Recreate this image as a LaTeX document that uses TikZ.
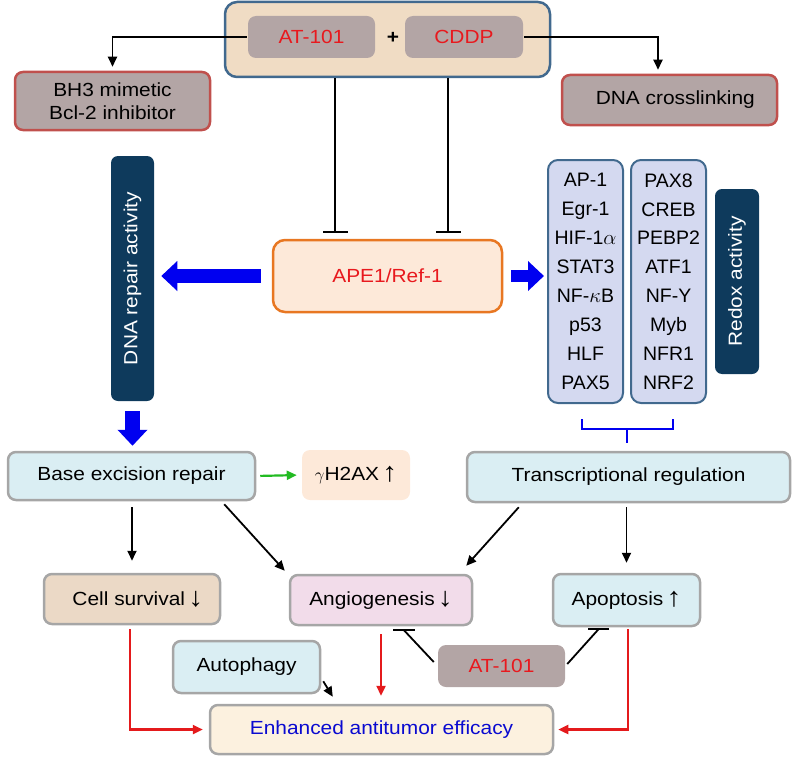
\documentclass[tikz,border=0pt]{standalone}
\usepackage{fontspec}
\usepackage{graphicx}
\setmainfont{Liberation Sans}[FakeStretch=1.1]
\newfontfamily\colfont{Liberation Sans}
\usetikzlibrary{arrows.meta,calc}

\definecolor{topfill}{HTML}{F0DCC4}
\definecolor{steel}{HTML}{41698E}
\definecolor{mauve}{HTML}{B3A5A5}
\definecolor{brick}{HTML}{C0504D}
\definecolor{apefill}{HTML}{FDE9D9}
\definecolor{apeline}{HTML}{E87722}
\definecolor{navy}{HTML}{0E3A5C}
\definecolor{tffill}{HTML}{D4D9F0}
\definecolor{lblue}{HTML}{DAEEF3}
\definecolor{boxgrey}{HTML}{A6A6A6}
\definecolor{cellfill}{HTML}{EBD9C6}
\definecolor{angfill}{HTML}{F2DCEA}
\definecolor{enhfill}{HTML}{FCF1DF}
\definecolor{drugred}{HTML}{E8191E}
\definecolor{txtblue}{HTML}{0A0AD0}
\definecolor{arrblue}{HTML}{0000F0}
\definecolor{arrgreen}{HTML}{22BB22}
\definecolor{linered}{HTML}{E41A1C}

\newcommand{\up}{\,\raisebox{-1pt}{\fontsize{27}{27}\selectfont\bfseries ↑}}
\newcommand{\down}{\,\raisebox{-1pt}{\fontsize{27}{27}\selectfont\bfseries ↓}}

\tikzset{
  box/.style={rounded corners=8pt, line width=2.5pt, inner sep=0pt, align=center,
    font=\fontsize{19}{23}\selectfont},
  topbox/.style={box, rounded corners=12pt, fill=topfill, draw=steel},
  greybox/.style={box, fill=mauve, text=drugred},
  targetbox/.style={box, fill=mauve, draw=brick},
  apebox/.style={box, rounded corners=12pt, fill=apefill, draw=apeline, text=drugred},
  activity/.style={box, rounded corners=7pt, fill=navy, text=white},
  tfcol/.style={box, rounded corners=10pt, fill=tffill, draw=steel, line width=2pt,
    font=\colfont\fontsize{19.5}{28.9}\selectfont},
  bluebox/.style={box, fill=lblue, draw=boxgrey},
  arr/.style={line width=1.8pt, -{Triangle[length=10pt,width=9pt]}},
  redarr/.style={arr, line width=2.3pt, draw=linered},
  greenarr/.style={arr, line width=2.2pt, draw=arrgreen},
  blk/.style={line width=1.8pt},
  inhibit/.style={line width=1.8pt, -{Bar[width=25pt]}},
  bigarrow/.style={line width=14pt, draw=arrblue, -{Triangle[length=16pt,width=29pt]}},
  bracket/.style={line width=2.5pt, draw=arrblue}
}

\begin{document}
\begin{tikzpicture}[x=1pt,y=-1pt]
\useasboundingbox (0,0) rectangle (794,757);

% drugs
\node[topbox, minimum width=325pt, minimum height=75pt] (drugs) at (387.5,39.5) {};
\node[greybox, minimum width=127pt, minimum height=42pt] (at1) at (311.5,37) {AT-101};
\node[font=\fontsize{19}{23}\selectfont\bfseries] (plus) at (393,38) {+};
\node[greybox, minimum width=118pt, minimum height=42pt] (cddp) at (464,37) {CDDP};

\node[targetbox, minimum width=195pt, minimum height=58pt] (bh3) at (112.5,101) {BH3 mimetic\\Bcl-2 inhibitor};
\node[targetbox, minimum width=215pt, minimum height=50pt] (xlink) at (669.5,100) {\ \ DNA crosslinking};

\draw[arr, shorten >=4pt] (at1.west) -| (bh3.north);
\draw[arr, shorten >=4pt] (cddp.east) -| ($(xlink.north)+(-11.5,0)$);

% APE1/Ref-1
\node[apebox, minimum width=229pt, minimum height=72pt] (ape) at (387.5,276) {APE1/Ref-1};
\draw[inhibit, shorten >=6pt] ($(drugs.south)+(-52.5,0)$) -- ($(ape.north)+(-52.5,0)$);
\draw[inhibit, shorten >=6pt] ($(drugs.south)+(60.5,0)$) -- ($(ape.north)+(60.5,0)$);

\node[activity, minimum width=43pt, minimum height=245pt] (repair) at (132.5,278.5) {\rotatebox{90}{DNA repair activity}};

\node[tfcol, minimum width=75pt, minimum height=243pt] (tfA) at (585.5,281.5)
  {AP-1\\Egr-1\\HIF-1$\alpha$\\STAT3\\NF-$\kappa$B\\p53\\HLF\\PAX5};
\node[tfcol, minimum width=75pt, minimum height=243pt] (tfB) at (668.5,281.5)
  {PAX8\\CREB\\PEBP2\\ATF1\\NF-Y\\Myb\\NFR1\\NRF2};
\node[activity, minimum width=44pt, minimum height=185pt] (redox) at (737,281.5) {\rotatebox{90}{Redox activity}};

\draw[bigarrow, shorten <=11pt, shorten >=6pt] (ape.west) -- (ape.west -| repair.east);
\draw[bigarrow, line width=12pt, shorten <=8pt, shorten >=3pt] (ape.east) -- (ape.east -| tfA.west);

% bracket under the factors
\coordinate (brace) at ($(tfA.south)!0.5!(tfB.south)+(0,39)$);
\draw[bracket] ($(tfA.south)+(-3.5,15)$) -- ++(0,10) -- ($(tfB.south)+(4.5,25)$) -- ++(0,-10);
\draw[bracket] ($(tfA.south)!0.5!(tfB.south)+(0,25)$) -- (brace);

% second row
\node[bluebox, minimum width=247pt, minimum height=48pt] (base) at (131.5,476) {Base excision repair};
\node[box, fill=apefill, minimum width=108pt, minimum height=50pt] (gh2ax) at (356,475) {$\gamma$H2AX\up};
\node[bluebox, minimum width=323pt, minimum height=50pt] (trans) at (628.5,477) {Transcriptional regulation};

\draw[bigarrow, line width=15pt, shorten <=9pt, shorten >=5pt] (repair.south) -- (repair.south |- base.north);
\draw[greenarr, shorten <=4pt, shorten >=4pt] (base.east) -- (gh2ax.west);

% third row
\node[box, fill=cellfill, draw=boxgrey, minimum width=176pt, minimum height=50pt] (cell) at (132,599) {\ \ Cell survival\down};
\node[box, fill=angfill, draw=boxgrey, minimum width=182pt, minimum height=50pt] (ang) at (381,600) {Angiogenesis\down};
\node[bluebox, minimum width=147pt, minimum height=52pt] (apo) at (626.5,600) {Apoptosis\up};

\draw[arr, shorten <=6pt, shorten >=12pt] (cell.north |- base.south) -- (cell.north);
\draw[arr] ($(base.south east)+(-32,3)$) -- ($(ang.north west)+(-4,-3)$);
\draw[arr] ($(trans.south west)+(53,4)$) -- ($(ang.north east)+(-7,-8)$);
\draw[arr, shorten <=4pt, shorten >=10pt] (apo.north |- trans.south) -- (apo.north);

% bottom
\node[greybox, minimum width=127pt, minimum height=42pt] (at2) at (501.5,666) {AT-101};
\node[bluebox, minimum width=147pt, minimum height=52pt] (auto) at (246.5,667) {Autophagy};
\node[box, fill=enhfill, draw=boxgrey, text=txtblue, minimum width=343pt, minimum height=49pt] (enh) at (381.5,729.5) {Enhanced antitumor efficacy};

\coordinate (angbar) at ($(ang.south)+(23,4)$);
\coordinate (apobar) at ($(apo.south)+(-28,2)$);
\draw[blk] ($(at2.west)+(-3,-4)$) -- (angbar);
\draw[blk] ($(angbar)+(-11,0)$) -- ++(22,0);
\draw[blk] ($(at2.east)+(1,-2)$) -- (apobar);
\draw[blk] ($(apobar)+(-10.5,0)$) -- ++(21,0);

\draw[redarr, shorten <=4pt, shorten >=6pt] ($(cell.south)+(-2,0)$) |- (enh.west);
\draw[redarr, shorten <=8pt, shorten >=8pt] (ang.south) -- (ang.south |- enh.north);
\draw[redarr, shorten <=2pt, shorten >=4pt] ($(apo.south)+(1.5,0)$) |- (enh.east);
\draw[arr] ($(auto.south east)+(2,-13)$) -- ($(enh.north west)+(124,-7)$);

\end{tikzpicture}
\end{document}
